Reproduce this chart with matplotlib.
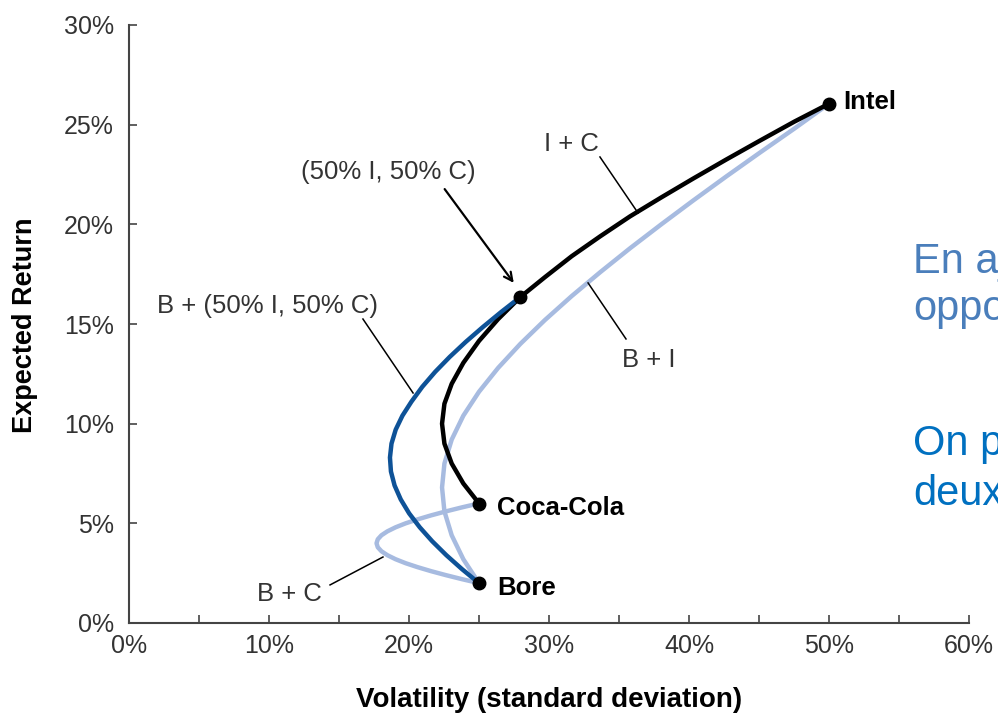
import matplotlib
matplotlib.use("Agg")
import matplotlib.pyplot as plt

# ---- data (volatility %, expected return %) ----
ic_vol = [25.0, 23.88, 23.05, 22.53, 22.36, 22.53, 23.05, 23.88, 25.0, 26.37, 27.95,
          29.71, 31.62, 33.66, 35.79, 38.02, 40.31, 42.66, 45.07, 47.52, 50.0]
ic_ret = [6.0, 7.0, 8.0, 9.0, 10.0, 11.0, 12.0, 13.05, 14.15, 15.25, 16.35,
          17.35, 18.4, 19.4, 20.4, 21.35, 22.3, 23.25, 24.2, 25.15, 26.05]

bi_vol = [25.0, 23.88, 23.05, 22.53, 22.36, 22.53, 23.05, 23.88, 25.0, 26.37, 27.95,
          29.71, 31.62, 33.66, 35.79, 38.02, 40.31, 42.66, 45.07, 47.52, 50.0]
bi_ret = [2.0, 3.2, 4.4, 5.6, 6.8, 8.0, 9.2, 10.4, 11.6, 12.8, 14.0,
          15.2, 16.4, 17.6, 18.8, 20.0, 21.2, 22.4, 23.6, 24.8, 26.05]

bc_vol = [25.0, 23.78, 22.64, 21.58, 20.62, 19.76, 19.04, 18.46, 18.03, 17.77, 17.68,
          17.77, 18.03, 18.46, 19.04, 19.76, 20.62, 21.58, 22.64, 23.78, 25.0]
bc_ret = [2.0, 2.2, 2.4, 2.6, 2.8, 3.0, 3.2, 3.4, 3.6, 3.8, 4.0,
          4.2, 4.4, 4.6, 4.8, 5.0, 5.2, 5.4, 5.6, 5.8, 6.0]

bp_vol = [25.0, 23.79, 22.67, 21.66, 20.77, 20.01, 19.41, 18.97, 18.71, 18.64, 18.75,
          19.05, 19.53, 20.17, 20.95, 21.87, 22.91, 24.05, 25.28, 26.58, 27.95]
bp_ret = [2.0, 2.7, 3.4, 4.1, 4.8, 5.5, 6.2, 6.9, 7.6, 8.3, 9.0,
          9.7, 10.4, 11.1, 11.85, 12.6, 13.35, 14.1, 14.85, 15.6, 16.35]

stock_names = ["Intel", "Coca-Cola", "Bore"]
stock_vol = [50.0, 25.0, 25.0]
stock_ret = [26.05, 5.95, 2.0]
mid_vol, mid_ret = 27.95, 16.35

x_ticks = [0, 10, 20, 30, 40, 50, 60]
x_minor = [5, 15, 25, 35, 45, 55]
y_ticks = [0, 5, 10, 15, 20, 25, 30]

LIGHT = "#a7bbe0"
DARK = "#0e5297"
AXC = "#444444"
TXT = "#333333"
FONT = "Liberation Sans"

plt.rcParams['font.family'] = [FONT, 'DejaVu Sans']

fig = plt.figure(figsize=(9.98, 7.13), dpi=100)
ax = fig.add_axes([129/998, 90/713, 840/998, 598/713])

ax.plot(bi_vol, bi_ret, color=LIGHT, lw=3.2, solid_capstyle='round', zorder=2)
ax.plot(bc_vol, bc_ret, color=LIGHT, lw=3.2, solid_capstyle='round', zorder=2)
ax.plot(ic_vol, ic_ret, color="black", lw=3.2, solid_capstyle='round', zorder=3)
ax.plot(bp_vol, bp_ret, color=DARK, lw=3.2, solid_capstyle='round', zorder=4)

ax.plot(stock_vol, stock_ret, 'o', color='black', ms=9, zorder=5, clip_on=False)
ax.plot([mid_vol], [mid_ret], 'o', color='black', ms=9, zorder=5)

ax.set_xlim(0, 60)
ax.set_ylim(0, 30)
for s in ['top', 'right']:
    ax.spines[s].set_visible(False)
for s in ['left', 'bottom']:
    ax.spines[s].set_linewidth(1.5)
    ax.spines[s].set_color(AXC)

ax.set_xticks(x_ticks)
ax.set_xticks(x_minor, minor=True)
ax.set_xticklabels([f"{v}%" for v in x_ticks])
ax.set_yticks(y_ticks)
ax.set_yticklabels([f"{v}%" for v in y_ticks])
ax.tick_params(axis='both', which='both', direction='in', length=6, width=1.2,
               color=AXC, labelsize=18, labelcolor=TXT)
ax.tick_params(axis='x', which='major', pad=8)
ax.tick_params(axis='y', which='major', pad=11)

# stock labels (left edge, baseline)
stock_label_pos = [(51.0, 25.8), (26.3, 5.42), (26.3, 1.40)]
for name, (lx, ly) in zip(stock_names, stock_label_pos):
    ax.text(lx, ly, name, fontsize=18.5, fontweight='bold',
            color='black', va='baseline', ha='left')

lab = dict(fontsize=18.5, color=TXT, va='baseline', ha='center')
ax.text(31.6, 23.68, "I + C", **lab)
ax.plot([33.64, 36.36], [23.38, 20.57], color='black', lw=1.1, zorder=6)

ax.text(18.5, 22.28, "(50% I, 50% C)", **lab)
ax.annotate("", xy=(27.6, 16.95), xytext=(22.43, 21.88),
            arrowprops=dict(arrowstyle='->,head_length=0.6,head_width=0.3',
                            color='black', lw=1.6), zorder=6)

ax.text(9.89, 15.55, "B + (50% I, 50% C)", **lab)
ax.plot([16.71, 20.29], [15.25, 11.54], color='black', lw=1.1, zorder=6)

ax.text(37.14, 12.85, "B + I", **lab)
ax.plot([32.79, 35.5], [17.06, 14.25], color='black', lw=1.1, zorder=6)

ax.text(11.43, 1.10, "B + C", **lab)
ax.plot([14.36, 18.14], [1.91, 3.31], color='black', lw=1.1, zorder=6)

# axis titles
fig.text(549/998, 6/713, "Volatility (standard deviation)", fontsize=20,
         fontweight='bold', ha='center', va='baseline', color='black')
fig.text(25/998, 1 - 325/713, "Expected Return", fontsize=19.5, fontweight='bold',
         rotation=90, ha='center', va='center', color='black')

# slide text, cut off at the right edge as in the reference
fig.text(913/998, 1 - 273/713, "En aj", fontsize=30, color="#4a7ebb",
         ha='left', va='baseline')
fig.text(913/998, 1 - 320/713, "oppo", fontsize=30, color="#4a7ebb",
         ha='left', va='baseline')
fig.text(913/998, 1 - 455/713, "On p", fontsize=30, color="#0070c0",
         ha='left', va='baseline')
fig.text(913/998, 1 - 505/713, "deux", fontsize=30, color="#0070c0",
         ha='left', va='baseline')

fig.savefig("out.png", dpi=100)
